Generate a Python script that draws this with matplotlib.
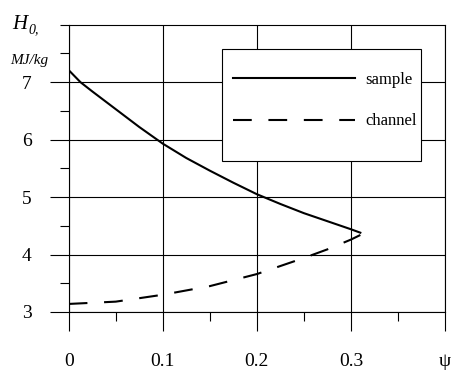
import numpy as np
import matplotlib
matplotlib.use("Agg")
import matplotlib.pyplot as plt
from matplotlib.patches import Rectangle

plt.rcParams['font.family'] = ['Liberation Serif', 'DejaVu Serif']
plt.rcParams['lines.scale_dashes'] = False

# data
psi_sample = [0, 0.0125, 0.025, 0.05, 0.075, 0.1, 0.125, 0.15, 0.175, 0.2, 0.225, 0.25, 0.275, 0.3, 0.31]
h_sample = [7.21, 7.0, 6.84, 6.53, 6.22, 5.93, 5.68, 5.46, 5.25, 5.05, 4.88, 4.72, 4.58, 4.44, 4.38]

psi_channel = [0, 0.05, 0.1, 0.15, 0.2, 0.25, 0.275, 0.3, 0.31]
h_channel = [3.14, 3.18, 3.30, 3.45, 3.66, 3.94, 4.09, 4.26, 4.34]

x_ticks = [0, 0.1, 0.2, 0.3, 0.4]
x_labels = ['0', '0.1', '0.2', '0.3', 'ψ']
y_ticks = [3, 4, 5, 6, 7]

fig = plt.figure(figsize=(4.54, 3.70), dpi=100)
ax = fig.add_axes([0.1513, 0.1568, 0.9802 - 0.1513, 0.9332 - 0.1568])

ax.plot(psi_sample, h_sample, color='black', lw=1.5, label='sample', zorder=4)
ax.plot(psi_channel, h_channel, color='black', lw=1.5, dashes=(13.5, 12), label='channel', zorder=4)

ax.set_xlim(0, 0.4)
ax.set_ylim(3, 8)
ax.set_xticks(x_ticks)
ax.set_xticklabels(x_labels)
ax.set_xticks([0.05, 0.15, 0.25, 0.35], minor=True)
ax.set_yticks(y_ticks)
ax.set_yticks([3.5, 4.5, 5.5, 6.5, 7.5, 8], minor=True)

ax.tick_params(which='major', direction='out', length=13.7, width=0.8, labelsize=14, color='black')
ax.tick_params(which='minor', direction='out', length=6.8, width=0.8)
ax.tick_params(axis='x', which='major', pad=15.5)
ax.tick_params(axis='y', which='major', pad=13)

ax.grid(True, which='major', color='black', lw=0.8)
for s in ax.spines.values():
    s.set_linewidth(0.8)

# legend frame
ax.add_patch(Rectangle((0.407, 0.5256), 0.529, 0.389, transform=ax.transAxes,
                       facecolor='white', edgecolor='black', lw=0.8, zorder=5))
leg = ax.legend(loc='upper left', bbox_to_anchor=(0.4366, 0.837), frameon=False,
                fontsize=12, handlelength=7.3, handletextpad=0.66, labelspacing=1.55,
                borderpad=0, borderaxespad=0)
leg.set_zorder(6)

fig.text(12 / 454, 1 - 29 / 370, 'H', style='italic', fontsize=15, va='baseline')
fig.text(28 / 454, 1 - 33 / 370, '0,', style='italic', fontsize=10, va='baseline')
fig.text(10 / 454, 1 - 64 / 370, 'MJ/kg', style='italic', fontsize=11, va='baseline')

fig.savefig('out.png', dpi=100)
